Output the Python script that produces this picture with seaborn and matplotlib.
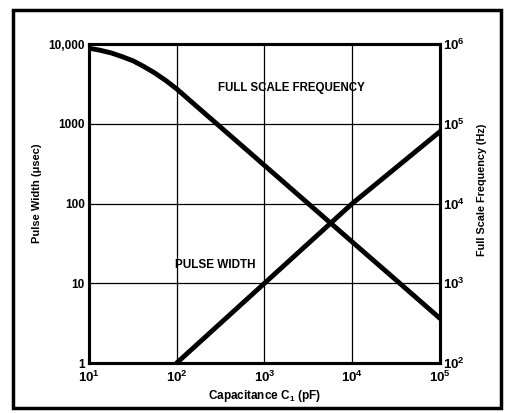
import numpy as np
import pandas as pd
import matplotlib
matplotlib.use('Agg')
import matplotlib.pyplot as plt
import matplotlib.ticker as mticker
from matplotlib.patches import Rectangle
import seaborn as sns

# rising line: pulse width (usec) vs capacitance (pF)
cap_pw = [100, 1000, 10000, 100000]
pulse_width = [1, 10, 100, 800]

# falling line: full scale frequency (Hz) vs capacitance (pF)
cap_fs = [10, 13.3, 18, 23.7, 32, 42.2, 56, 75, 100, 178, 316, 1000, 3160, 10000, 31600, 100000]
full_scale_freq = [891000, 841000, 776000, 700000, 617000, 525000, 437000, 351000,
                   275000, 158000, 91200, 30200, 10000, 3310, 1100, 363]

x_ticks = [10, 100, 1000, 10000, 100000]
x_labels = [r'$\mathdefault{10^{1}}$', r'$\mathdefault{10^{2}}$', r'$\mathdefault{10^{3}}$',
            r'$\mathdefault{10^{4}}$', r'$\mathdefault{10^{5}}$']
left_ticks = [1, 10, 100, 1000, 10000]
left_labels = ['1', '10', '100', '1000', '10,000']
right_ticks = [1e2, 1e3, 1e4, 1e5, 1e6]
right_labels = [r'$\mathdefault{10^{2}}$', r'$\mathdefault{10^{3}}$', r'$\mathdefault{10^{4}}$',
                r'$\mathdefault{10^{5}}$', r'$\mathdefault{10^{6}}$']

sns.set_style('white')
plt.rcParams['font.family'] = ['Liberation Sans', 'DejaVu Sans']
for k in ['text.color', 'axes.labelcolor', 'xtick.color', 'ytick.color', 'axes.edgecolor']:
    plt.rcParams[k] = 'black'

fig = plt.figure(figsize=(5.08, 4.13), dpi=100)
ax = fig.add_axes([0.175, 0.121, 0.691, 0.772])
ax.set_xscale('log')
ax.set_yscale('log')
ax.set_xlim(10, 1e5)
ax.set_ylim(1, 1e4)

sns.lineplot(x=cap_pw, y=pulse_width, ax=ax, color='black', lw=3.5)

ax.set_xticks(x_ticks)
ax.set_xticklabels(x_labels, fontsize=9.5, fontweight='bold')
ax.set_yticks(left_ticks)
ax.set_yticklabels(left_labels, fontsize=8.5, fontweight='bold')
ax.xaxis.set_minor_locator(mticker.NullLocator())
ax.yaxis.set_minor_locator(mticker.NullLocator())
ax.tick_params(axis='x', length=0, pad=5)
ax.tick_params(axis='y', length=0, pad=3)
ax.grid(True, color='black', lw=0.9)
for s in ax.spines.values():
    s.set_linewidth(2.2)

ax2 = ax.twinx()
ax2.set_yscale('log')
ax2.set_ylim(1e2, 1e6)
sns.lineplot(x=cap_fs, y=full_scale_freq, ax=ax2, color='black', lw=3.5)
ax2.set_yticks(right_ticks)
ax2.set_yticklabels(right_labels, fontsize=9.5, fontweight='bold')
ax2.yaxis.set_minor_locator(mticker.NullLocator())
ax2.tick_params(length=0, pad=2)
ax2.grid(False)
for s in ax2.spines.values():
    s.set_linewidth(2.2)

ax.set_xlabel(r'Capacitance C$_\mathdefault{1}$ (pF)', fontsize=8.5, fontweight='bold')
ax.xaxis.set_label_coords(0.5, -0.078)
ax.set_ylabel('Pulse Width (\u03bcsec)', fontsize=8, fontweight='bold')
ax.yaxis.set_label_coords(-0.134, 0.533)
ax2.set_ylabel('Full Scale Frequency (Hz)', fontsize=7.8, fontweight='bold')
ax2.yaxis.set_label_coords(1.105, 0.542)

ax.text(0.578, 0.862, 'FULL SCALE FREQUENCY', transform=ax.transAxes,
        ha='center', va='center', fontsize=8.3, fontweight='bold')
ax.text(0.359, 0.307, 'PULSE WIDTH', transform=ax.transAxes,
        ha='center', va='center', fontsize=8.5, fontweight='bold')

fig.patches.append(Rectangle((0.0256, 0.012), 0.961, 0.964, transform=fig.transFigure,
                             fill=False, edgecolor='black', lw=2.5))

fig.savefig('out.png', dpi=100)
